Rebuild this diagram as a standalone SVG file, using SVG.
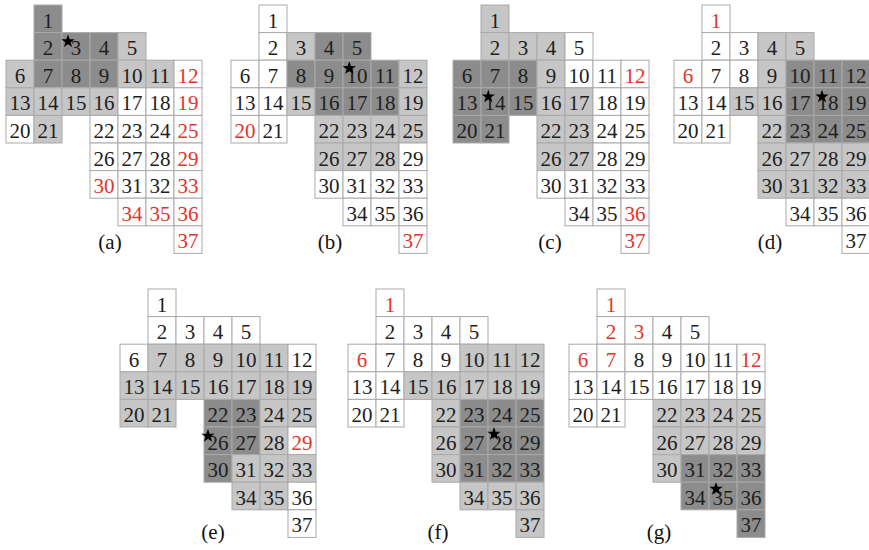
<svg xmlns="http://www.w3.org/2000/svg" width="869" height="550" viewBox="0 0 869 550" font-family="'Liberation Serif', 'DejaVu Serif', serif">
<style>
use.c{fill:#fff;stroke:#a9a9a9;stroke-width:1}
use.L{fill:#c6c6c6}
use.D{fill:#8c8c8c}
text{font-family:'Liberation Serif','DejaVu Serif',serif;font-size:21px;text-anchor:middle;fill:#1e1e1e}
text.r{fill:#e3342c}
text.lbl{font-size:21px;fill:#111}
.star{fill:#000}
</style>
<defs>
<rect id="cell" width="28" height="27.6"/>
<polygon id="star" points="0,-7 1.65,-2.27 6.66,-2.16 2.66,0.87 4.11,5.66 0,2.8 -4.11,5.66 -2.66,0.87 -6.66,-2.16 -1.65,-2.27"/>
</defs>
<rect width="869" height="550" fill="#fff"/>

<!-- panel a -->
<g id="panel-a" transform="translate(6 5)">
<g id="a1" transform="translate(28 0)"><use href="#cell" class="c D"/><text x="14" y="22.5">1</text></g>
<g id="a2" transform="translate(28 27.6)"><use href="#cell" class="c D"/><text x="14" y="22.5">2</text></g>
<g id="a3" transform="translate(56 27.6)"><use href="#cell" class="c D"/><text x="14" y="22.5">3</text></g>
<g id="a4" transform="translate(84 27.6)"><use href="#cell" class="c D"/><text x="14" y="22.5">4</text></g>
<g id="a5" transform="translate(112 27.6)"><use href="#cell" class="c L"/><text x="14" y="22.5">5</text></g>
<g id="a6" transform="translate(0 55.2)"><use href="#cell" class="c L"/><text x="14" y="22.5">6</text></g>
<g id="a7" transform="translate(28 55.2)"><use href="#cell" class="c D"/><text x="14" y="22.5">7</text></g>
<g id="a8" transform="translate(56 55.2)"><use href="#cell" class="c D"/><text x="14" y="22.5">8</text></g>
<g id="a9" transform="translate(84 55.2)"><use href="#cell" class="c D"/><text x="14" y="22.5">9</text></g>
<g id="a10" transform="translate(112 55.2)"><use href="#cell" class="c L"/><text x="14" y="22.5">10</text></g>
<g id="a11" transform="translate(140 55.2)"><use href="#cell" class="c L"/><text x="14" y="22.5">11</text></g>
<g id="a12" transform="translate(168 55.2)"><use href="#cell" class="c"/><text x="14" y="22.5" class="r">12</text></g>
<g id="a13" transform="translate(0 82.8)"><use href="#cell" class="c L"/><text x="14" y="22.5">13</text></g>
<g id="a14" transform="translate(28 82.8)"><use href="#cell" class="c L"/><text x="14" y="22.5">14</text></g>
<g id="a15" transform="translate(56 82.8)"><use href="#cell" class="c L"/><text x="14" y="22.5">15</text></g>
<g id="a16" transform="translate(84 82.8)"><use href="#cell" class="c L"/><text x="14" y="22.5">16</text></g>
<g id="a17" transform="translate(112 82.8)"><use href="#cell" class="c"/><text x="14" y="22.5">17</text></g>
<g id="a18" transform="translate(140 82.8)"><use href="#cell" class="c"/><text x="14" y="22.5">18</text></g>
<g id="a19" transform="translate(168 82.8)"><use href="#cell" class="c"/><text x="14" y="22.5" class="r">19</text></g>
<g id="a20" transform="translate(0 110.4)"><use href="#cell" class="c"/><text x="14" y="22.5">20</text></g>
<g id="a21" transform="translate(28 110.4)"><use href="#cell" class="c L"/><text x="14" y="22.5">21</text></g>
<g id="a22" transform="translate(84 110.4)"><use href="#cell" class="c"/><text x="14" y="22.5">22</text></g>
<g id="a23" transform="translate(112 110.4)"><use href="#cell" class="c"/><text x="14" y="22.5">23</text></g>
<g id="a24" transform="translate(140 110.4)"><use href="#cell" class="c"/><text x="14" y="22.5">24</text></g>
<g id="a25" transform="translate(168 110.4)"><use href="#cell" class="c"/><text x="14" y="22.5" class="r">25</text></g>
<g id="a26" transform="translate(84 138)"><use href="#cell" class="c"/><text x="14" y="22.5">26</text></g>
<g id="a27" transform="translate(112 138)"><use href="#cell" class="c"/><text x="14" y="22.5">27</text></g>
<g id="a28" transform="translate(140 138)"><use href="#cell" class="c"/><text x="14" y="22.5">28</text></g>
<g id="a29" transform="translate(168 138)"><use href="#cell" class="c"/><text x="14" y="22.5" class="r">29</text></g>
<g id="a30" transform="translate(84 165.6)"><use href="#cell" class="c"/><text x="14" y="22.5" class="r">30</text></g>
<g id="a31" transform="translate(112 165.6)"><use href="#cell" class="c"/><text x="14" y="22.5">31</text></g>
<g id="a32" transform="translate(140 165.6)"><use href="#cell" class="c"/><text x="14" y="22.5">32</text></g>
<g id="a33" transform="translate(168 165.6)"><use href="#cell" class="c"/><text x="14" y="22.5" class="r">33</text></g>
<g id="a34" transform="translate(112 193.2)"><use href="#cell" class="c"/><text x="14" y="22.5" class="r">34</text></g>
<g id="a35" transform="translate(140 193.2)"><use href="#cell" class="c"/><text x="14" y="22.5" class="r">35</text></g>
<g id="a36" transform="translate(168 193.2)"><use href="#cell" class="c"/><text x="14" y="22.5" class="r">36</text></g>
<g id="a37" transform="translate(168 220.8)"><use href="#cell" class="c"/><text x="14" y="22.5" class="r">37</text></g>
<use href="#star" class="star" x="62" y="36.4"/>
</g>
<text class="lbl" x="110" y="249">(a)</text>

<!-- panel b -->
<g id="panel-b" transform="translate(231 5)">
<g id="b1" transform="translate(28 0)"><use href="#cell" class="c"/><text x="14" y="22.5">1</text></g>
<g id="b2" transform="translate(28 27.6)"><use href="#cell" class="c"/><text x="14" y="22.5">2</text></g>
<g id="b3" transform="translate(56 27.6)"><use href="#cell" class="c L"/><text x="14" y="22.5">3</text></g>
<g id="b4" transform="translate(84 27.6)"><use href="#cell" class="c D"/><text x="14" y="22.5">4</text></g>
<g id="b5" transform="translate(112 27.6)"><use href="#cell" class="c D"/><text x="14" y="22.5">5</text></g>
<g id="b6" transform="translate(0 55.2)"><use href="#cell" class="c"/><text x="14" y="22.5">6</text></g>
<g id="b7" transform="translate(28 55.2)"><use href="#cell" class="c"/><text x="14" y="22.5">7</text></g>
<g id="b8" transform="translate(56 55.2)"><use href="#cell" class="c D"/><text x="14" y="22.5">8</text></g>
<g id="b9" transform="translate(84 55.2)"><use href="#cell" class="c D"/><text x="14" y="22.5">9</text></g>
<g id="b10" transform="translate(112 55.2)"><use href="#cell" class="c D"/><text x="14" y="22.5">10</text></g>
<g id="b11" transform="translate(140 55.2)"><use href="#cell" class="c D"/><text x="14" y="22.5">11</text></g>
<g id="b12" transform="translate(168 55.2)"><use href="#cell" class="c L"/><text x="14" y="22.5">12</text></g>
<g id="b13" transform="translate(0 82.8)"><use href="#cell" class="c"/><text x="14" y="22.5">13</text></g>
<g id="b14" transform="translate(28 82.8)"><use href="#cell" class="c"/><text x="14" y="22.5">14</text></g>
<g id="b15" transform="translate(56 82.8)"><use href="#cell" class="c L"/><text x="14" y="22.5">15</text></g>
<g id="b16" transform="translate(84 82.8)"><use href="#cell" class="c D"/><text x="14" y="22.5">16</text></g>
<g id="b17" transform="translate(112 82.8)"><use href="#cell" class="c D"/><text x="14" y="22.5">17</text></g>
<g id="b18" transform="translate(140 82.8)"><use href="#cell" class="c D"/><text x="14" y="22.5">18</text></g>
<g id="b19" transform="translate(168 82.8)"><use href="#cell" class="c L"/><text x="14" y="22.5">19</text></g>
<g id="b20" transform="translate(0 110.4)"><use href="#cell" class="c"/><text x="14" y="22.5" class="r">20</text></g>
<g id="b21" transform="translate(28 110.4)"><use href="#cell" class="c"/><text x="14" y="22.5">21</text></g>
<g id="b22" transform="translate(84 110.4)"><use href="#cell" class="c L"/><text x="14" y="22.5">22</text></g>
<g id="b23" transform="translate(112 110.4)"><use href="#cell" class="c L"/><text x="14" y="22.5">23</text></g>
<g id="b24" transform="translate(140 110.4)"><use href="#cell" class="c L"/><text x="14" y="22.5">24</text></g>
<g id="b25" transform="translate(168 110.4)"><use href="#cell" class="c L"/><text x="14" y="22.5">25</text></g>
<g id="b26" transform="translate(84 138)"><use href="#cell" class="c L"/><text x="14" y="22.5">26</text></g>
<g id="b27" transform="translate(112 138)"><use href="#cell" class="c L"/><text x="14" y="22.5">27</text></g>
<g id="b28" transform="translate(140 138)"><use href="#cell" class="c L"/><text x="14" y="22.5">28</text></g>
<g id="b29" transform="translate(168 138)"><use href="#cell" class="c"/><text x="14" y="22.5">29</text></g>
<g id="b30" transform="translate(84 165.6)"><use href="#cell" class="c"/><text x="14" y="22.5">30</text></g>
<g id="b31" transform="translate(112 165.6)"><use href="#cell" class="c"/><text x="14" y="22.5">31</text></g>
<g id="b32" transform="translate(140 165.6)"><use href="#cell" class="c"/><text x="14" y="22.5">32</text></g>
<g id="b33" transform="translate(168 165.6)"><use href="#cell" class="c"/><text x="14" y="22.5">33</text></g>
<g id="b34" transform="translate(112 193.2)"><use href="#cell" class="c"/><text x="14" y="22.5">34</text></g>
<g id="b35" transform="translate(140 193.2)"><use href="#cell" class="c"/><text x="14" y="22.5">35</text></g>
<g id="b36" transform="translate(168 193.2)"><use href="#cell" class="c"/><text x="14" y="22.5">36</text></g>
<g id="b37" transform="translate(168 220.8)"><use href="#cell" class="c"/><text x="14" y="22.5" class="r">37</text></g>
<use href="#star" class="star" x="118.3" y="63.3"/>
</g>
<text class="lbl" x="330" y="249">(b)</text>

<!-- panel c -->
<g id="panel-c" transform="translate(453 5)">
<g id="c1" transform="translate(28 0)"><use href="#cell" class="c L"/><text x="14" y="22.5">1</text></g>
<g id="c2" transform="translate(28 27.6)"><use href="#cell" class="c L"/><text x="14" y="22.5">2</text></g>
<g id="c3" transform="translate(56 27.6)"><use href="#cell" class="c L"/><text x="14" y="22.5">3</text></g>
<g id="c4" transform="translate(84 27.6)"><use href="#cell" class="c L"/><text x="14" y="22.5">4</text></g>
<g id="c5" transform="translate(112 27.6)"><use href="#cell" class="c"/><text x="14" y="22.5">5</text></g>
<g id="c6" transform="translate(0 55.2)"><use href="#cell" class="c D"/><text x="14" y="22.5">6</text></g>
<g id="c7" transform="translate(28 55.2)"><use href="#cell" class="c D"/><text x="14" y="22.5">7</text></g>
<g id="c8" transform="translate(56 55.2)"><use href="#cell" class="c D"/><text x="14" y="22.5">8</text></g>
<g id="c9" transform="translate(84 55.2)"><use href="#cell" class="c L"/><text x="14" y="22.5">9</text></g>
<g id="c10" transform="translate(112 55.2)"><use href="#cell" class="c"/><text x="14" y="22.5">10</text></g>
<g id="c11" transform="translate(140 55.2)"><use href="#cell" class="c"/><text x="14" y="22.5">11</text></g>
<g id="c12" transform="translate(168 55.2)"><use href="#cell" class="c"/><text x="14" y="22.5" class="r">12</text></g>
<g id="c13" transform="translate(0 82.8)"><use href="#cell" class="c D"/><text x="14" y="22.5">13</text></g>
<g id="c14" transform="translate(28 82.8)"><use href="#cell" class="c D"/><text x="14" y="22.5">14</text></g>
<g id="c15" transform="translate(56 82.8)"><use href="#cell" class="c D"/><text x="14" y="22.5">15</text></g>
<g id="c16" transform="translate(84 82.8)"><use href="#cell" class="c L"/><text x="14" y="22.5">16</text></g>
<g id="c17" transform="translate(112 82.8)"><use href="#cell" class="c L"/><text x="14" y="22.5">17</text></g>
<g id="c18" transform="translate(140 82.8)"><use href="#cell" class="c"/><text x="14" y="22.5">18</text></g>
<g id="c19" transform="translate(168 82.8)"><use href="#cell" class="c"/><text x="14" y="22.5">19</text></g>
<g id="c20" transform="translate(0 110.4)"><use href="#cell" class="c D"/><text x="14" y="22.5">20</text></g>
<g id="c21" transform="translate(28 110.4)"><use href="#cell" class="c D"/><text x="14" y="22.5">21</text></g>
<g id="c22" transform="translate(84 110.4)"><use href="#cell" class="c L"/><text x="14" y="22.5">22</text></g>
<g id="c23" transform="translate(112 110.4)"><use href="#cell" class="c L"/><text x="14" y="22.5">23</text></g>
<g id="c24" transform="translate(140 110.4)"><use href="#cell" class="c"/><text x="14" y="22.5">24</text></g>
<g id="c25" transform="translate(168 110.4)"><use href="#cell" class="c"/><text x="14" y="22.5">25</text></g>
<g id="c26" transform="translate(84 138)"><use href="#cell" class="c L"/><text x="14" y="22.5">26</text></g>
<g id="c27" transform="translate(112 138)"><use href="#cell" class="c L"/><text x="14" y="22.5">27</text></g>
<g id="c28" transform="translate(140 138)"><use href="#cell" class="c"/><text x="14" y="22.5">28</text></g>
<g id="c29" transform="translate(168 138)"><use href="#cell" class="c"/><text x="14" y="22.5">29</text></g>
<g id="c30" transform="translate(84 165.6)"><use href="#cell" class="c"/><text x="14" y="22.5">30</text></g>
<g id="c31" transform="translate(112 165.6)"><use href="#cell" class="c"/><text x="14" y="22.5">31</text></g>
<g id="c32" transform="translate(140 165.6)"><use href="#cell" class="c"/><text x="14" y="22.5">32</text></g>
<g id="c33" transform="translate(168 165.6)"><use href="#cell" class="c"/><text x="14" y="22.5">33</text></g>
<g id="c34" transform="translate(112 193.2)"><use href="#cell" class="c"/><text x="14" y="22.5">34</text></g>
<g id="c35" transform="translate(140 193.2)"><use href="#cell" class="c"/><text x="14" y="22.5">35</text></g>
<g id="c36" transform="translate(168 193.2)"><use href="#cell" class="c"/><text x="14" y="22.5" class="r">36</text></g>
<g id="c37" transform="translate(168 220.8)"><use href="#cell" class="c"/><text x="14" y="22.5" class="r">37</text></g>
<use href="#star" class="star" x="35.3" y="91.7"/>
</g>
<text class="lbl" x="550" y="249">(c)</text>

<!-- panel d -->
<g id="panel-d" transform="translate(674 5)">
<g id="d1" transform="translate(28 0)"><use href="#cell" class="c"/><text x="14" y="22.5" class="r">1</text></g>
<g id="d2" transform="translate(28 27.6)"><use href="#cell" class="c"/><text x="14" y="22.5">2</text></g>
<g id="d3" transform="translate(56 27.6)"><use href="#cell" class="c"/><text x="14" y="22.5">3</text></g>
<g id="d4" transform="translate(84 27.6)"><use href="#cell" class="c L"/><text x="14" y="22.5">4</text></g>
<g id="d5" transform="translate(112 27.6)"><use href="#cell" class="c L"/><text x="14" y="22.5">5</text></g>
<g id="d6" transform="translate(0 55.2)"><use href="#cell" class="c"/><text x="14" y="22.5" class="r">6</text></g>
<g id="d7" transform="translate(28 55.2)"><use href="#cell" class="c"/><text x="14" y="22.5">7</text></g>
<g id="d8" transform="translate(56 55.2)"><use href="#cell" class="c"/><text x="14" y="22.5">8</text></g>
<g id="d9" transform="translate(84 55.2)"><use href="#cell" class="c L"/><text x="14" y="22.5">9</text></g>
<g id="d10" transform="translate(112 55.2)"><use href="#cell" class="c D"/><text x="14" y="22.5">10</text></g>
<g id="d11" transform="translate(140 55.2)"><use href="#cell" class="c D"/><text x="14" y="22.5">11</text></g>
<g id="d12" transform="translate(168 55.2)"><use href="#cell" class="c D"/><text x="14" y="22.5">12</text></g>
<g id="d13" transform="translate(0 82.8)"><use href="#cell" class="c"/><text x="14" y="22.5">13</text></g>
<g id="d14" transform="translate(28 82.8)"><use href="#cell" class="c"/><text x="14" y="22.5">14</text></g>
<g id="d15" transform="translate(56 82.8)"><use href="#cell" class="c L"/><text x="14" y="22.5">15</text></g>
<g id="d16" transform="translate(84 82.8)"><use href="#cell" class="c L"/><text x="14" y="22.5">16</text></g>
<g id="d17" transform="translate(112 82.8)"><use href="#cell" class="c D"/><text x="14" y="22.5">17</text></g>
<g id="d18" transform="translate(140 82.8)"><use href="#cell" class="c D"/><text x="14" y="22.5">18</text></g>
<g id="d19" transform="translate(168 82.8)"><use href="#cell" class="c D"/><text x="14" y="22.5">19</text></g>
<g id="d20" transform="translate(0 110.4)"><use href="#cell" class="c"/><text x="14" y="22.5">20</text></g>
<g id="d21" transform="translate(28 110.4)"><use href="#cell" class="c"/><text x="14" y="22.5">21</text></g>
<g id="d22" transform="translate(84 110.4)"><use href="#cell" class="c L"/><text x="14" y="22.5">22</text></g>
<g id="d23" transform="translate(112 110.4)"><use href="#cell" class="c D"/><text x="14" y="22.5">23</text></g>
<g id="d24" transform="translate(140 110.4)"><use href="#cell" class="c D"/><text x="14" y="22.5">24</text></g>
<g id="d25" transform="translate(168 110.4)"><use href="#cell" class="c D"/><text x="14" y="22.5">25</text></g>
<g id="d26" transform="translate(84 138)"><use href="#cell" class="c L"/><text x="14" y="22.5">26</text></g>
<g id="d27" transform="translate(112 138)"><use href="#cell" class="c L"/><text x="14" y="22.5">27</text></g>
<g id="d28" transform="translate(140 138)"><use href="#cell" class="c L"/><text x="14" y="22.5">28</text></g>
<g id="d29" transform="translate(168 138)"><use href="#cell" class="c L"/><text x="14" y="22.5">29</text></g>
<g id="d30" transform="translate(84 165.6)"><use href="#cell" class="c L"/><text x="14" y="22.5">30</text></g>
<g id="d31" transform="translate(112 165.6)"><use href="#cell" class="c L"/><text x="14" y="22.5">31</text></g>
<g id="d32" transform="translate(140 165.6)"><use href="#cell" class="c L"/><text x="14" y="22.5">32</text></g>
<g id="d33" transform="translate(168 165.6)"><use href="#cell" class="c L"/><text x="14" y="22.5">33</text></g>
<g id="d34" transform="translate(112 193.2)"><use href="#cell" class="c"/><text x="14" y="22.5">34</text></g>
<g id="d35" transform="translate(140 193.2)"><use href="#cell" class="c"/><text x="14" y="22.5">35</text></g>
<g id="d36" transform="translate(168 193.2)"><use href="#cell" class="c"/><text x="14" y="22.5">36</text></g>
<g id="d37" transform="translate(168 220.8)"><use href="#cell" class="c"/><text x="14" y="22.5">37</text></g>
<use href="#star" class="star" x="148" y="91.7"/>
</g>
<text class="lbl" x="770" y="249">(d)</text>

<!-- panel e -->
<g id="panel-e" transform="translate(120 289)">
<g id="e1" transform="translate(28 0)"><use href="#cell" class="c"/><text x="14" y="22.5">1</text></g>
<g id="e2" transform="translate(28 27.6)"><use href="#cell" class="c"/><text x="14" y="22.5">2</text></g>
<g id="e3" transform="translate(56 27.6)"><use href="#cell" class="c"/><text x="14" y="22.5">3</text></g>
<g id="e4" transform="translate(84 27.6)"><use href="#cell" class="c"/><text x="14" y="22.5">4</text></g>
<g id="e5" transform="translate(112 27.6)"><use href="#cell" class="c"/><text x="14" y="22.5">5</text></g>
<g id="e6" transform="translate(0 55.2)"><use href="#cell" class="c"/><text x="14" y="22.5">6</text></g>
<g id="e7" transform="translate(28 55.2)"><use href="#cell" class="c L"/><text x="14" y="22.5">7</text></g>
<g id="e8" transform="translate(56 55.2)"><use href="#cell" class="c L"/><text x="14" y="22.5">8</text></g>
<g id="e9" transform="translate(84 55.2)"><use href="#cell" class="c L"/><text x="14" y="22.5">9</text></g>
<g id="e10" transform="translate(112 55.2)"><use href="#cell" class="c L"/><text x="14" y="22.5">10</text></g>
<g id="e11" transform="translate(140 55.2)"><use href="#cell" class="c L"/><text x="14" y="22.5">11</text></g>
<g id="e12" transform="translate(168 55.2)"><use href="#cell" class="c"/><text x="14" y="22.5">12</text></g>
<g id="e13" transform="translate(0 82.8)"><use href="#cell" class="c L"/><text x="14" y="22.5">13</text></g>
<g id="e14" transform="translate(28 82.8)"><use href="#cell" class="c L"/><text x="14" y="22.5">14</text></g>
<g id="e15" transform="translate(56 82.8)"><use href="#cell" class="c L"/><text x="14" y="22.5">15</text></g>
<g id="e16" transform="translate(84 82.8)"><use href="#cell" class="c L"/><text x="14" y="22.5">16</text></g>
<g id="e17" transform="translate(112 82.8)"><use href="#cell" class="c L"/><text x="14" y="22.5">17</text></g>
<g id="e18" transform="translate(140 82.8)"><use href="#cell" class="c L"/><text x="14" y="22.5">18</text></g>
<g id="e19" transform="translate(168 82.8)"><use href="#cell" class="c L"/><text x="14" y="22.5">19</text></g>
<g id="e20" transform="translate(0 110.4)"><use href="#cell" class="c L"/><text x="14" y="22.5">20</text></g>
<g id="e21" transform="translate(28 110.4)"><use href="#cell" class="c L"/><text x="14" y="22.5">21</text></g>
<g id="e22" transform="translate(84 110.4)"><use href="#cell" class="c D"/><text x="14" y="22.5">22</text></g>
<g id="e23" transform="translate(112 110.4)"><use href="#cell" class="c D"/><text x="14" y="22.5">23</text></g>
<g id="e24" transform="translate(140 110.4)"><use href="#cell" class="c L"/><text x="14" y="22.5">24</text></g>
<g id="e25" transform="translate(168 110.4)"><use href="#cell" class="c L"/><text x="14" y="22.5">25</text></g>
<g id="e26" transform="translate(84 138)"><use href="#cell" class="c D"/><text x="14" y="22.5">26</text></g>
<g id="e27" transform="translate(112 138)"><use href="#cell" class="c D"/><text x="14" y="22.5">27</text></g>
<g id="e28" transform="translate(140 138)"><use href="#cell" class="c L"/><text x="14" y="22.5">28</text></g>
<g id="e29" transform="translate(168 138)"><use href="#cell" class="c"/><text x="14" y="22.5" class="r">29</text></g>
<g id="e30" transform="translate(84 165.6)"><use href="#cell" class="c D"/><text x="14" y="22.5">30</text></g>
<g id="e31" transform="translate(112 165.6)"><use href="#cell" class="c L"/><text x="14" y="22.5">31</text></g>
<g id="e32" transform="translate(140 165.6)"><use href="#cell" class="c L"/><text x="14" y="22.5">32</text></g>
<g id="e33" transform="translate(168 165.6)"><use href="#cell" class="c L"/><text x="14" y="22.5">33</text></g>
<g id="e34" transform="translate(112 193.2)"><use href="#cell" class="c L"/><text x="14" y="22.5">34</text></g>
<g id="e35" transform="translate(140 193.2)"><use href="#cell" class="c L"/><text x="14" y="22.5">35</text></g>
<g id="e36" transform="translate(168 193.2)"><use href="#cell" class="c"/><text x="14" y="22.5">36</text></g>
<g id="e37" transform="translate(168 220.8)"><use href="#cell" class="c"/><text x="14" y="22.5">37</text></g>
<use href="#star" class="star" x="88" y="147"/>
</g>
<text class="lbl" x="213" y="539">(e)</text>

<!-- panel f -->
<g id="panel-f" transform="translate(348 289)">
<g id="f1" transform="translate(28 0)"><use href="#cell" class="c"/><text x="14" y="22.5" class="r">1</text></g>
<g id="f2" transform="translate(28 27.6)"><use href="#cell" class="c"/><text x="14" y="22.5">2</text></g>
<g id="f3" transform="translate(56 27.6)"><use href="#cell" class="c"/><text x="14" y="22.5">3</text></g>
<g id="f4" transform="translate(84 27.6)"><use href="#cell" class="c"/><text x="14" y="22.5">4</text></g>
<g id="f5" transform="translate(112 27.6)"><use href="#cell" class="c"/><text x="14" y="22.5">5</text></g>
<g id="f6" transform="translate(0 55.2)"><use href="#cell" class="c"/><text x="14" y="22.5" class="r">6</text></g>
<g id="f7" transform="translate(28 55.2)"><use href="#cell" class="c"/><text x="14" y="22.5">7</text></g>
<g id="f8" transform="translate(56 55.2)"><use href="#cell" class="c"/><text x="14" y="22.5">8</text></g>
<g id="f9" transform="translate(84 55.2)"><use href="#cell" class="c"/><text x="14" y="22.5">9</text></g>
<g id="f10" transform="translate(112 55.2)"><use href="#cell" class="c L"/><text x="14" y="22.5">10</text></g>
<g id="f11" transform="translate(140 55.2)"><use href="#cell" class="c L"/><text x="14" y="22.5">11</text></g>
<g id="f12" transform="translate(168 55.2)"><use href="#cell" class="c L"/><text x="14" y="22.5">12</text></g>
<g id="f13" transform="translate(0 82.8)"><use href="#cell" class="c"/><text x="14" y="22.5">13</text></g>
<g id="f14" transform="translate(28 82.8)"><use href="#cell" class="c"/><text x="14" y="22.5">14</text></g>
<g id="f15" transform="translate(56 82.8)"><use href="#cell" class="c L"/><text x="14" y="22.5">15</text></g>
<g id="f16" transform="translate(84 82.8)"><use href="#cell" class="c L"/><text x="14" y="22.5">16</text></g>
<g id="f17" transform="translate(112 82.8)"><use href="#cell" class="c L"/><text x="14" y="22.5">17</text></g>
<g id="f18" transform="translate(140 82.8)"><use href="#cell" class="c L"/><text x="14" y="22.5">18</text></g>
<g id="f19" transform="translate(168 82.8)"><use href="#cell" class="c L"/><text x="14" y="22.5">19</text></g>
<g id="f20" transform="translate(0 110.4)"><use href="#cell" class="c"/><text x="14" y="22.5">20</text></g>
<g id="f21" transform="translate(28 110.4)"><use href="#cell" class="c"/><text x="14" y="22.5">21</text></g>
<g id="f22" transform="translate(84 110.4)"><use href="#cell" class="c L"/><text x="14" y="22.5">22</text></g>
<g id="f23" transform="translate(112 110.4)"><use href="#cell" class="c D"/><text x="14" y="22.5">23</text></g>
<g id="f24" transform="translate(140 110.4)"><use href="#cell" class="c D"/><text x="14" y="22.5">24</text></g>
<g id="f25" transform="translate(168 110.4)"><use href="#cell" class="c D"/><text x="14" y="22.5">25</text></g>
<g id="f26" transform="translate(84 138)"><use href="#cell" class="c L"/><text x="14" y="22.5">26</text></g>
<g id="f27" transform="translate(112 138)"><use href="#cell" class="c D"/><text x="14" y="22.5">27</text></g>
<g id="f28" transform="translate(140 138)"><use href="#cell" class="c D"/><text x="14" y="22.5">28</text></g>
<g id="f29" transform="translate(168 138)"><use href="#cell" class="c D"/><text x="14" y="22.5">29</text></g>
<g id="f30" transform="translate(84 165.6)"><use href="#cell" class="c L"/><text x="14" y="22.5">30</text></g>
<g id="f31" transform="translate(112 165.6)"><use href="#cell" class="c D"/><text x="14" y="22.5">31</text></g>
<g id="f32" transform="translate(140 165.6)"><use href="#cell" class="c D"/><text x="14" y="22.5">32</text></g>
<g id="f33" transform="translate(168 165.6)"><use href="#cell" class="c D"/><text x="14" y="22.5">33</text></g>
<g id="f34" transform="translate(112 193.2)"><use href="#cell" class="c L"/><text x="14" y="22.5">34</text></g>
<g id="f35" transform="translate(140 193.2)"><use href="#cell" class="c L"/><text x="14" y="22.5">35</text></g>
<g id="f36" transform="translate(168 193.2)"><use href="#cell" class="c L"/><text x="14" y="22.5">36</text></g>
<g id="f37" transform="translate(168 220.8)"><use href="#cell" class="c L"/><text x="14" y="22.5">37</text></g>
<use href="#star" class="star" x="146" y="145"/>
</g>
<text class="lbl" x="438" y="539">(f)</text>

<!-- panel g -->
<g id="panel-g" transform="translate(569 289)">
<g id="g1" transform="translate(28 0)"><use href="#cell" class="c"/><text x="14" y="22.5" class="r">1</text></g>
<g id="g2" transform="translate(28 27.6)"><use href="#cell" class="c"/><text x="14" y="22.5" class="r">2</text></g>
<g id="g3" transform="translate(56 27.6)"><use href="#cell" class="c"/><text x="14" y="22.5" class="r">3</text></g>
<g id="g4" transform="translate(84 27.6)"><use href="#cell" class="c"/><text x="14" y="22.5">4</text></g>
<g id="g5" transform="translate(112 27.6)"><use href="#cell" class="c"/><text x="14" y="22.5">5</text></g>
<g id="g6" transform="translate(0 55.2)"><use href="#cell" class="c"/><text x="14" y="22.5" class="r">6</text></g>
<g id="g7" transform="translate(28 55.2)"><use href="#cell" class="c"/><text x="14" y="22.5" class="r">7</text></g>
<g id="g8" transform="translate(56 55.2)"><use href="#cell" class="c"/><text x="14" y="22.5">8</text></g>
<g id="g9" transform="translate(84 55.2)"><use href="#cell" class="c"/><text x="14" y="22.5">9</text></g>
<g id="g10" transform="translate(112 55.2)"><use href="#cell" class="c"/><text x="14" y="22.5">10</text></g>
<g id="g11" transform="translate(140 55.2)"><use href="#cell" class="c"/><text x="14" y="22.5">11</text></g>
<g id="g12" transform="translate(168 55.2)"><use href="#cell" class="c"/><text x="14" y="22.5" class="r">12</text></g>
<g id="g13" transform="translate(0 82.8)"><use href="#cell" class="c"/><text x="14" y="22.5">13</text></g>
<g id="g14" transform="translate(28 82.8)"><use href="#cell" class="c"/><text x="14" y="22.5">14</text></g>
<g id="g15" transform="translate(56 82.8)"><use href="#cell" class="c"/><text x="14" y="22.5">15</text></g>
<g id="g16" transform="translate(84 82.8)"><use href="#cell" class="c"/><text x="14" y="22.5">16</text></g>
<g id="g17" transform="translate(112 82.8)"><use href="#cell" class="c"/><text x="14" y="22.5">17</text></g>
<g id="g18" transform="translate(140 82.8)"><use href="#cell" class="c"/><text x="14" y="22.5">18</text></g>
<g id="g19" transform="translate(168 82.8)"><use href="#cell" class="c"/><text x="14" y="22.5">19</text></g>
<g id="g20" transform="translate(0 110.4)"><use href="#cell" class="c"/><text x="14" y="22.5">20</text></g>
<g id="g21" transform="translate(28 110.4)"><use href="#cell" class="c"/><text x="14" y="22.5">21</text></g>
<g id="g22" transform="translate(84 110.4)"><use href="#cell" class="c L"/><text x="14" y="22.5">22</text></g>
<g id="g23" transform="translate(112 110.4)"><use href="#cell" class="c L"/><text x="14" y="22.5">23</text></g>
<g id="g24" transform="translate(140 110.4)"><use href="#cell" class="c L"/><text x="14" y="22.5">24</text></g>
<g id="g25" transform="translate(168 110.4)"><use href="#cell" class="c L"/><text x="14" y="22.5">25</text></g>
<g id="g26" transform="translate(84 138)"><use href="#cell" class="c L"/><text x="14" y="22.5">26</text></g>
<g id="g27" transform="translate(112 138)"><use href="#cell" class="c L"/><text x="14" y="22.5">27</text></g>
<g id="g28" transform="translate(140 138)"><use href="#cell" class="c L"/><text x="14" y="22.5">28</text></g>
<g id="g29" transform="translate(168 138)"><use href="#cell" class="c L"/><text x="14" y="22.5">29</text></g>
<g id="g30" transform="translate(84 165.6)"><use href="#cell" class="c L"/><text x="14" y="22.5">30</text></g>
<g id="g31" transform="translate(112 165.6)"><use href="#cell" class="c D"/><text x="14" y="22.5">31</text></g>
<g id="g32" transform="translate(140 165.6)"><use href="#cell" class="c D"/><text x="14" y="22.5">32</text></g>
<g id="g33" transform="translate(168 165.6)"><use href="#cell" class="c D"/><text x="14" y="22.5">33</text></g>
<g id="g34" transform="translate(112 193.2)"><use href="#cell" class="c D"/><text x="14" y="22.5">34</text></g>
<g id="g35" transform="translate(140 193.2)"><use href="#cell" class="c D"/><text x="14" y="22.5">35</text></g>
<g id="g36" transform="translate(168 193.2)"><use href="#cell" class="c D"/><text x="14" y="22.5">36</text></g>
<g id="g37" transform="translate(168 220.8)"><use href="#cell" class="c D"/><text x="14" y="22.5">37</text></g>
<use href="#star" class="star" x="147" y="200"/>
</g>
<text class="lbl" x="659" y="539">(g)</text>
</svg>
